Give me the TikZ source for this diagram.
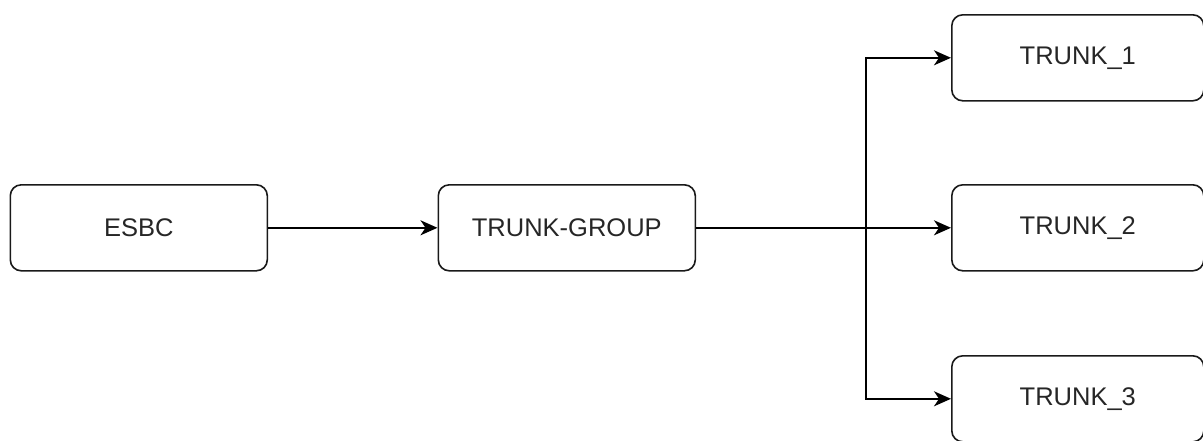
\documentclass[tikz,border=0pt]{standalone}
\usepackage{fontspec}
\setmainfont{Liberation Sans}
\usetikzlibrary{arrows.meta}
\begin{document}
\begin{tikzpicture}[x=1pt,y=-1pt,
  box/.style={draw=black!90, line width=1.6pt, rounded corners=11pt, minimum width=257pt, minimum height=86pt, inner sep=0pt, anchor=north west, font=\fontsize{25.5}{30}\selectfont, text=black!85},
  conn/.style={draw=black, line width=1.8pt, -{Stealth[length=17pt,width=15pt,inset=5pt]}}]
\useasboundingbox (0,0) rectangle (1203,440);
\node[box] (esbc) at (9.5,184) {ESBC};
\node[box] (tg) at (437.5,184) {TRUNK-GROUP};
\node[box, minimum width=252pt] (t1) at (951,14) {TRUNK\_1};
\node[box, minimum width=252pt] (t2) at (951,184) {TRUNK\_2};
\node[box, minimum width=252pt] (t3) at (951,355) {TRUNK\_3};
\coordinate (br) at (866,227);
\draw[conn] (esbc.east) -- (tg.west);
\draw[conn] (tg.east) -- (t2.west);
\draw[conn] (br) |- (t1.west);
\draw[conn] (br) |- (t3.west);
\end{tikzpicture}
\end{document}
